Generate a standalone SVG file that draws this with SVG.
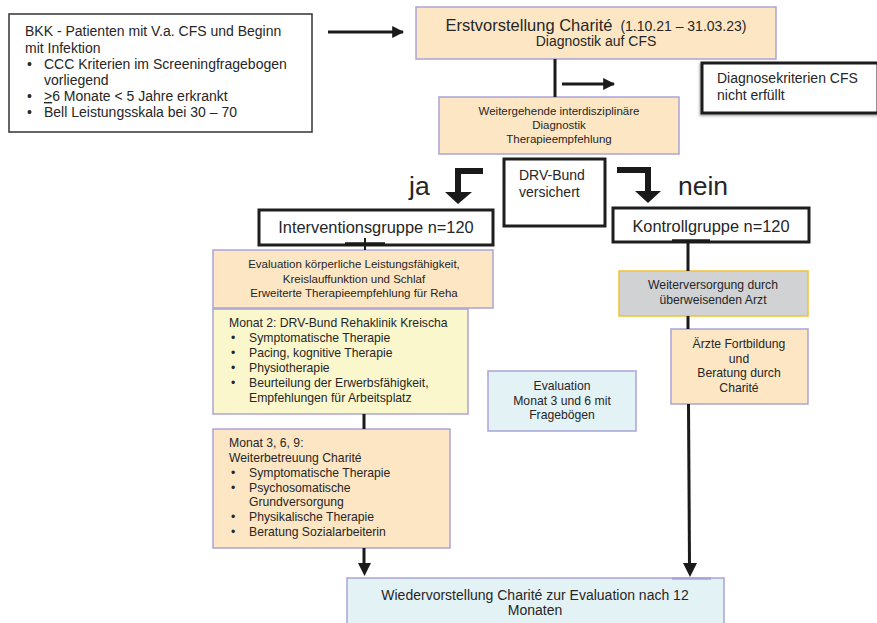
<svg xmlns="http://www.w3.org/2000/svg" width="877" height="623" viewBox="0 0 877 623">
<defs>
<marker id="ah" viewBox="0 0 10 10" refX="9" refY="5" markerWidth="4" markerHeight="4" orient="auto" markerUnits="strokeWidth">
<path d="M0,0 L10,5 L0,10 z" fill="#1a1a1a"/>
</marker>
<filter id="sh" x="-10%" y="-10%" width="130%" height="140%">
<feDropShadow dx="-1" dy="1.5" stdDeviation="1" flood-color="#000" flood-opacity="0.35"/>
</filter>
</defs>
<style>
text{font-family:"Liberation Sans",Arial,sans-serif;fill:#262626;}
.peach{fill:#fde6c4;stroke:#a9a4d8;stroke-width:1.5;}
.yellow{fill:#fbf7cd;stroke:#a9a4d8;stroke-width:1.5;}
.blue{fill:#e3f2f5;stroke:#a9a4d8;stroke-width:1.5;}
.gray{fill:#d1d2d4;stroke:#f4c136;stroke-width:1.5;}
.bk{fill:#fff;stroke:#1e1e1e;stroke-width:3;}
.thin{fill:#fff;stroke:#333;stroke-width:1.5;}
.ln{stroke:#1a1a1a;stroke-width:3;fill:none;}
.fat{stroke:#1a1a1a;stroke-width:6;fill:none;}
.c{text-anchor:middle;}
.s11{font-size:11.5px;}
.s12{font-size:12.2px;}
.s14{font-size:14px;}
.s16{font-size:16.4px;}
.big{font-size:26.5px;}
</style>

<g id="bkk">
<rect class="thin" x="9" y="14" width="303" height="118"/>
<text class="s14" x="25" y="36">BKK - Patienten mit V.a. CFS und Beginn</text>
<text class="s14" x="25" y="53">mit Infektion</text>
<text class="s14" x="27" y="69">•</text>
<text class="s14" x="44" y="69">CCC Kriterien im Screeningfragebogen</text>
<text class="s14" x="44" y="85">vorliegend</text>
<text class="s14" x="27" y="101">•</text>
<text class="s14" x="44" y="101"><tspan text-decoration="underline">&gt;</tspan>6 Monate &lt; 5 Jahre erkrankt</text>
<text class="s14" x="27" y="117">•</text>
<text class="s14" x="44" y="117">Bell Leistungsskala bei 30 – 70</text>
</g>

<g id="erstvorstellung">
<rect class="peach" x="416" y="7" width="360" height="52"/>
<text class="c" x="596" y="31"><tspan style="font-size:16.5px">Erstvorstellung Charité</tspan><tspan class="s14" dx="8">(1.10.21 – 31.03.23)</tspan></text>
<text class="c s14" x="596" y="46">Diagnostik auf CFS</text>
</g>

<g id="diagnosekriterien">
<rect class="bk" x="702" y="63" width="176" height="50" filter="url(#sh)"/>
<text class="s14" x="717" y="83">Diagnosekriterien CFS</text>
<text class="s14" x="717" y="100">nicht erfüllt</text>
</g>

<g id="weitergehende">
<rect class="peach" x="439" y="97" width="240" height="57"/>
<text class="c s11" x="559" y="115">Weitergehende interdisziplinäre</text>
<text class="c s11" x="559" y="129">Diagnostik</text>
<text class="c s11" x="559" y="143">Therapieempfehlung</text>
</g>

<g id="drv">
<rect class="bk" x="504" y="159" width="101" height="67"/>
<text class="s14" x="519" y="180">DRV-Bund</text>
<text class="s14" x="519" y="197">versichert</text>
</g>

<g id="label-ja"><text class="big" x="409" y="195">ja</text></g>
<g id="label-nein"><text class="big" x="678" y="195">nein</text></g>

<g id="interventionsgruppe">
<rect class="bk" x="259" y="210" width="234" height="35"/>
<text class="c s16" x="376" y="233">Interventionsgruppe n=120</text>
</g>

<g id="kontrollgruppe">
<rect class="bk" x="613" y="208" width="196" height="34"/>
<text class="c s16" x="711" y="232">Kontrollgruppe n=120</text>
</g>

<g id="evaluation-leistung">
<rect class="peach" x="213" y="250" width="280" height="58"/>
<text class="c s11" x="354" y="268">Evaluation körperliche Leistungsfähigkeit,</text>
<text class="c s11" x="354" y="283">Kreislauffunktion und Schlaf</text>
<text class="c s11" x="354" y="297">Erweiterte Therapieempfehlung für Reha</text>
</g>

<g id="monat2">
<rect class="yellow" x="213" y="309" width="255" height="105"/>
<text class="s12" x="229" y="327">Monat 2: DRV-Bund Rehaklinik Kreischa</text>
<text class="s12" x="231" y="342">•</text><text class="s12" x="249" y="342">Symptomatische Therapie</text>
<text class="s12" x="231" y="357">•</text><text class="s12" x="249" y="357">Pacing, kognitive Therapie</text>
<text class="s12" x="231" y="372">•</text><text class="s12" x="249" y="372">Physiotherapie</text>
<text class="s12" x="231" y="387">•</text><text class="s12" x="249" y="387">Beurteilung der Erwerbsfähigkeit,</text>
<text class="s12" x="249" y="402">Empfehlungen für Arbeitsplatz</text>
</g>

<g id="monat3">
<rect class="peach" x="213" y="429" width="237" height="119"/>
<text class="s12" x="229" y="447">Monat 3, 6, 9:</text>
<text class="s12" x="229" y="462">Weiterbetreuung Charité</text>
<text class="s12" x="231" y="477">•</text><text class="s12" x="249" y="477">Symptomatische Therapie</text>
<text class="s12" x="231" y="492">•</text><text class="s12" x="249" y="492">Psychosomatische</text>
<text class="s12" x="249" y="506">Grundversorgung</text>
<text class="s12" x="231" y="521">•</text><text class="s12" x="249" y="521">Physikalische Therapie</text>
<text class="s12" x="231" y="536">•</text><text class="s12" x="249" y="536">Beratung Sozialarbeiterin</text>
</g>

<g id="evaluation-monat">
<rect class="blue" x="488" y="371" width="148" height="60"/>
<text class="c s12" x="562" y="390">Evaluation</text>
<text class="c s12" x="562" y="405">Monat 3 und 6 mit</text>
<text class="c s12" x="562" y="419">Fragebögen</text>
</g>

<g id="weiterversorgung">
<rect class="gray" x="619" y="271" width="189" height="45"/>
<text class="c s12" x="713" y="289">Weiterversorgung durch</text>
<text class="c s12" x="713" y="304">überweisenden Arzt</text>
</g>

<g id="aerzte">
<rect class="peach" x="671" y="329" width="137" height="75"/>
<text class="c s12" x="739" y="348">Ärzte Fortbildung</text>
<text class="c s12" x="739" y="363">und</text>
<text class="c s12" x="739" y="377">Beratung durch</text>
<text class="c s12" x="739" y="392">Charité</text>
</g>

<g id="wiedervorstellung">
<rect class="blue" x="347" y="578" width="377" height="50"/>
<line x1="672" y1="578.5" x2="711" y2="578.5" stroke="#a9a4d8" stroke-width="2.5"/>
<text class="c s14" x="535" y="600">Wiedervorstellung Charité zur Evaluation nach 12</text>
<text class="c s14" x="535" y="615">Monaten</text>
</g>

<g id="connectors">
<line class="ln" x1="328" y1="32" x2="403" y2="32" marker-end="url(#ah)"/>
<line class="ln" x1="555" y1="59" x2="555" y2="97"/>
<line class="ln" x1="562" y1="84" x2="614" y2="84" marker-end="url(#ah)"/>
<polyline class="fat" points="483,171 458,171 458,193"/>
<polygon points="445,192 472,192 458,204" fill="#1a1a1a"/>
<polyline class="fat" points="617,170 648,170 648,192"/>
<polygon points="635,191 661,191 648,203" fill="#1a1a1a"/>
<line x1="345" y1="244" x2="385" y2="244" stroke="#1a1a1a" stroke-width="3.5"/>
<line x1="365" y1="238" x2="365" y2="250" stroke="#1a1a1a" stroke-width="2"/>
<line class="ln" x1="364" y1="414" x2="364" y2="429"/>
<line class="ln" x1="364" y1="548" x2="364" y2="564"/>
<polygon points="358,563 371,563 364.5,576" fill="#1a1a1a"/>
<line x1="672" y1="241" x2="710" y2="241" stroke="#1a1a1a" stroke-width="3.5"/>
<line class="ln" x1="688" y1="241" x2="688" y2="271"/>
<line class="ln" x1="688" y1="316" x2="688" y2="329"/>
<line class="ln" x1="688.5" y1="404" x2="689.5" y2="565"/>
<polygon points="683,563 697,563 690,577" fill="#1a1a1a"/>
</g>
</svg>
